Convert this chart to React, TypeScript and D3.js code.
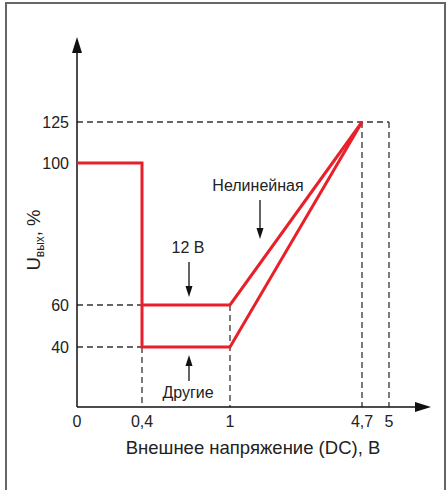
import React from "react";
import * as d3 from "d3";

const xTicks = [0, 0.4, 1, 4.7, 5];
const xTickLabels = ["0", "0,4", "1", "4,7", "5"];
const yTicks = [40, 60, 100, 125];
const yTickLabels = ["40", "60", "100", "125"];
const series12V: [number, number][] = [[0.4, 60], [1, 60], [4.7, 125]];
const seriesOther: [number, number][] = [[0, 100], [0.4, 100], [0.4, 40], [1, 40], [4.7, 125]];

const FONT = "'Liberation Sans', Arial, sans-serif";
const RED = "#e8202a";

export default function App() {
  const x = d3.scaleLinear().domain([0, 0.4, 1, 4.7, 5]).range([77, 142, 230, 362, 389]);
  const y = d3.scaleLinear().domain([0, 40, 60, 100, 125]).range([407, 347, 305, 163, 122]);
  const line = d3.line<[number, number]>().x(d => x(d[0])).y(d => y(d[1]));
  const dash = { stroke: "#333", strokeWidth: 1.3, strokeDasharray: "6,4", fill: "none" };

  const x0 = x(0), y0 = y(0);
  return (
    <svg width={446} height={490} style={{ position: "absolute", left: 0, top: 0, background: "#fff" }}>
      <rect x={6} y={3} width={439} height={500} fill="none" stroke="#666" strokeWidth={2} />
      {/* dashed guides */}
      <line x1={x0} y1={y(125)} x2={x(5)} y2={y(125)} {...dash} />
      <line x1={x(5)} y1={y(125)} x2={x(5)} y2={y0} {...dash} />
      <line x1={x(4.7)} y1={y(125)} x2={x(4.7)} y2={y0} {...dash} />
      <line x1={x0} y1={y(60)} x2={x(0.4)} y2={y(60)} {...dash} />
      <line x1={x0} y1={y(40)} x2={x(0.4)} y2={y(40)} {...dash} />
      <line x1={x(0.4)} y1={y(40)} x2={x(0.4)} y2={y0} {...dash} />
      <line x1={x(1)} y1={y(60)} x2={x(1)} y2={y0} {...dash} />
      {/* axes */}
      <line x1={x0} y1={y0} x2={x0} y2={50} stroke="#111" strokeWidth={1.5} />
      <path d={`M${x0},37 L${x0 - 5},53 L${x0 + 5},53 Z`} fill="#111" />
      <line x1={x0} y1={y0} x2={418} y2={y0} stroke="#111" strokeWidth={1.5} />
      <path d={`M431,${y0} L415,${y0 - 5} L415,${y0 + 5} Z`} fill="#111" />
      {/* series */}
      <path d={line(seriesOther) || ""} fill="none" stroke={RED} strokeWidth={3} strokeLinejoin="miter" />
      <path d={line(series12V) || ""} fill="none" stroke={RED} strokeWidth={3} strokeLinejoin="miter" />
      {/* ticks labels */}
      {xTicks.map((t, i) => (
        <text key={"x" + i} x={x(t)} y={427} textAnchor="middle" fontFamily={FONT} fontSize={16} fill="#222">{xTickLabels[i]}</text>
      ))}
      {yTicks.map((t, i) => (
        <text key={"y" + i} x={69} y={y(t) + 6} textAnchor="end" fontFamily={FONT} fontSize={16} fill="#222">{yTickLabels[i]}</text>
      ))}
      {/* axis titles */}
      <text x={253} y={454} textAnchor="middle" fontFamily={FONT} fontSize={18.5} fill="#222">Внешнее напряжение (DC), В</text>
      <text transform="translate(40,240) rotate(-90)" textAnchor="middle" fontFamily={FONT} fontSize={18.5} fill="#222">
        U<tspan fontSize={12} dy={4}>вых</tspan><tspan dy={-4}>, %</tspan>
      </text>
      {/* annotations */}
      <text x={258} y={191} textAnchor="middle" fontFamily={FONT} fontSize={16} fill="#222">Нелинейная</text>
      <line x1={260} y1={200} x2={260} y2={232} stroke="#111" strokeWidth={1.3} />
      <path d="M260,239 L256.5,228 L263.5,228 Z" fill="#111" />
      <text x={188} y={253} textAnchor="middle" fontFamily={FONT} fontSize={16} fill="#222">12 В</text>
      <line x1={189} y1={262} x2={189} y2={291} stroke="#111" strokeWidth={1.3} />
      <path d="M189,297 L185.5,286 L192.5,286 Z" fill="#111" />
      <text x={188} y={398} textAnchor="middle" fontFamily={FONT} fontSize={16} fill="#222">Другие</text>
      <line x1={189} y1={381} x2={189} y2={361} stroke="#111" strokeWidth={1.3} />
      <path d="M189,355 L185.5,366 L192.5,366 Z" fill="#111" />
    </svg>
  );
}
